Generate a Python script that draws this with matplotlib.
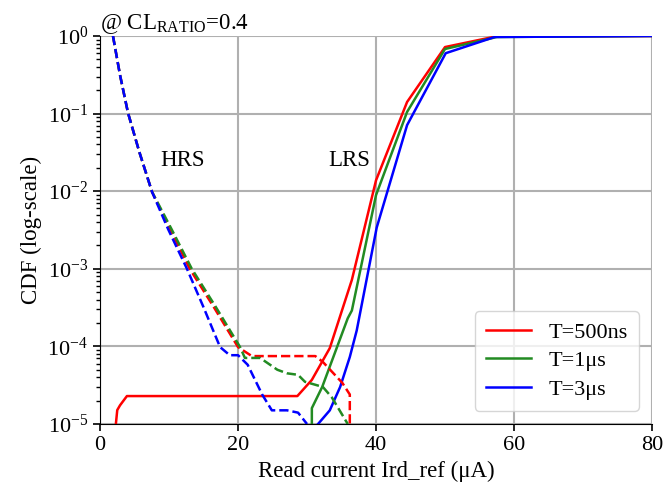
import matplotlib
matplotlib.use("Agg")
import matplotlib.pyplot as plt

plt.rcParams['font.family'] = ['Liberation Serif', 'DejaVu Serif']
plt.rcParams['mathtext.fontset'] = 'custom'
plt.rcParams['mathtext.rm'] = 'Liberation Serif'
plt.rcParams['mathtext.it'] = 'Liberation Serif:italic'
plt.rcParams['mathtext.bf'] = 'Liberation Serif:bold'

labels = ["T=500ns", "T=1\u03bcs", "T=3\u03bcs"]
colors = ["red", "forestgreen", "blue"]

# LRS (solid) curves
lrs_red_x = [2.3, 2.5, 2.9, 3.9, 28.6, 30.7, 33.3, 36.5, 40.0, 44.5, 50.0, 57.2, 80]
lrs_red_y = [1e-5, 1.51e-5, 1.74e-5, 2.29e-5, 2.29e-5, 3.7e-5, 9.5e-5, 7.2e-4, 0.0138, 0.141, 0.72, 0.98, 1.0]
lrs_green_x = [30.7, 30.7, 32.2, 35.9, 36.5, 40.0, 44.5, 50.0, 57.5, 80]
lrs_green_y = [1e-5, 1.6e-5, 3.0e-5, 2.3e-4, 2.9e-4, 8.9e-3, 0.105, 0.68, 0.97, 1.0]
lrs_blue_x = [31.6, 33.3, 34.8, 36.2, 37.2, 40.1, 44.5, 50.1, 57.2, 80]
lrs_blue_y = [1e-5, 1.5e-5, 3.0e-5, 7.3e-5, 1.6e-4, 3.4e-3, 0.071, 0.60, 0.97, 1.0]

# HRS (dashed) curves
hrs_red_x = [1.88, 2.9, 4.06, 5.7, 7.54, 10.2, 13.0, 16.5, 20.0, 22.0, 31.2, 32.3, 35.1, 36.2, 36.2]
hrs_red_y = [1.0, 0.314, 0.102, 0.032, 0.0098, 3.2e-3, 1e-3, 3.2e-4, 9.8e-5, 7.5e-5, 7.5e-5, 6.3e-5, 3.4e-5, 2.4e-5, 1e-5]
hrs_green_x = [1.88, 2.9, 4.06, 5.7, 7.54, 10.4, 13.3, 16.8, 20.3, 21.0, 23.2, 25.7, 27.1, 28.7, 29.7, 32.3, 33.6, 35.9]
hrs_green_y = [1.0, 0.314, 0.102, 0.032, 0.0098, 3.2e-3, 1e-3, 3.2e-4, 9.8e-5, 7.1e-5, 7.1e-5, 5.0e-5, 4.5e-5, 4.3e-5, 3.5e-5, 3.0e-5, 2.2e-5, 1e-5]
hrs_blue_x = [1.88, 2.9, 4.06, 5.7, 7.54, 9.9, 12.6, 15.0, 17.4, 18.8, 20.0, 21.4, 23.5, 24.9, 27.1, 28.7, 30.0]
hrs_blue_y = [1.0, 0.314, 0.102, 0.032, 0.0098, 3.2e-3, 1e-3, 3.2e-4, 9.8e-5, 7.7e-5, 7.7e-5, 5.8e-5, 2.4e-5, 1.5e-5, 1.5e-5, 1.4e-5, 1e-5]

fig = plt.figure(figsize=(6.64, 4.97), dpi=100)
ax = fig.add_axes([0.1506, 0.1469, 0.8314, 0.7807])

lrs = [(lrs_red_x, lrs_red_y), (lrs_green_x, lrs_green_y), (lrs_blue_x, lrs_blue_y)]
hrs = [(hrs_red_x, hrs_red_y), (hrs_green_x, hrs_green_y), (hrs_blue_x, hrs_blue_y)]

for (x, y), c, lab in zip(lrs, colors, labels):
    ax.plot(x, y, color=c, lw=1.8, label=lab)
for (x, y), c in zip(hrs, colors):
    ax.plot(x, y, color=c, lw=1.8, ls='--')

ax.set_yscale('log')
ax.set_xlim(0, 80)
ax.set_ylim(1e-5, 1)
ax.set_xticks([0, 20, 40, 60, 80])
ax.grid(True, which='major', color='#b0b0b0', lw=1.5)
ax.set_axisbelow(True)
for s in ['top', 'right']:
    ax.spines[s].set_visible(False)
ax.tick_params(axis='both', which='major', labelsize=16, length=5, width=1.2)
ax.tick_params(axis='y', which='minor', length=3, width=1)

ax.set_xlabel('Read current Ird_ref (\u03bcA)', fontsize=16.5, labelpad=4)
ax.set_ylabel('CDF (log-scale)', fontsize=16.5)
ax.set_title(r'@ CL$_{\mathrm{RATIO}}$=0.4', loc='left', fontsize=16.5, pad=3)

ax.text(12.0, 0.025, 'HRS', fontsize=16.5, ha='center', va='center')
ax.text(36.1, 0.025, 'LRS', fontsize=16.5, ha='center', va='center')

ax.legend(loc='lower right', fontsize=16, handlelength=2.0, borderpad=0.5,
          labelspacing=0.35, borderaxespad=0.6)

fig.savefig('out.png', dpi=100)
